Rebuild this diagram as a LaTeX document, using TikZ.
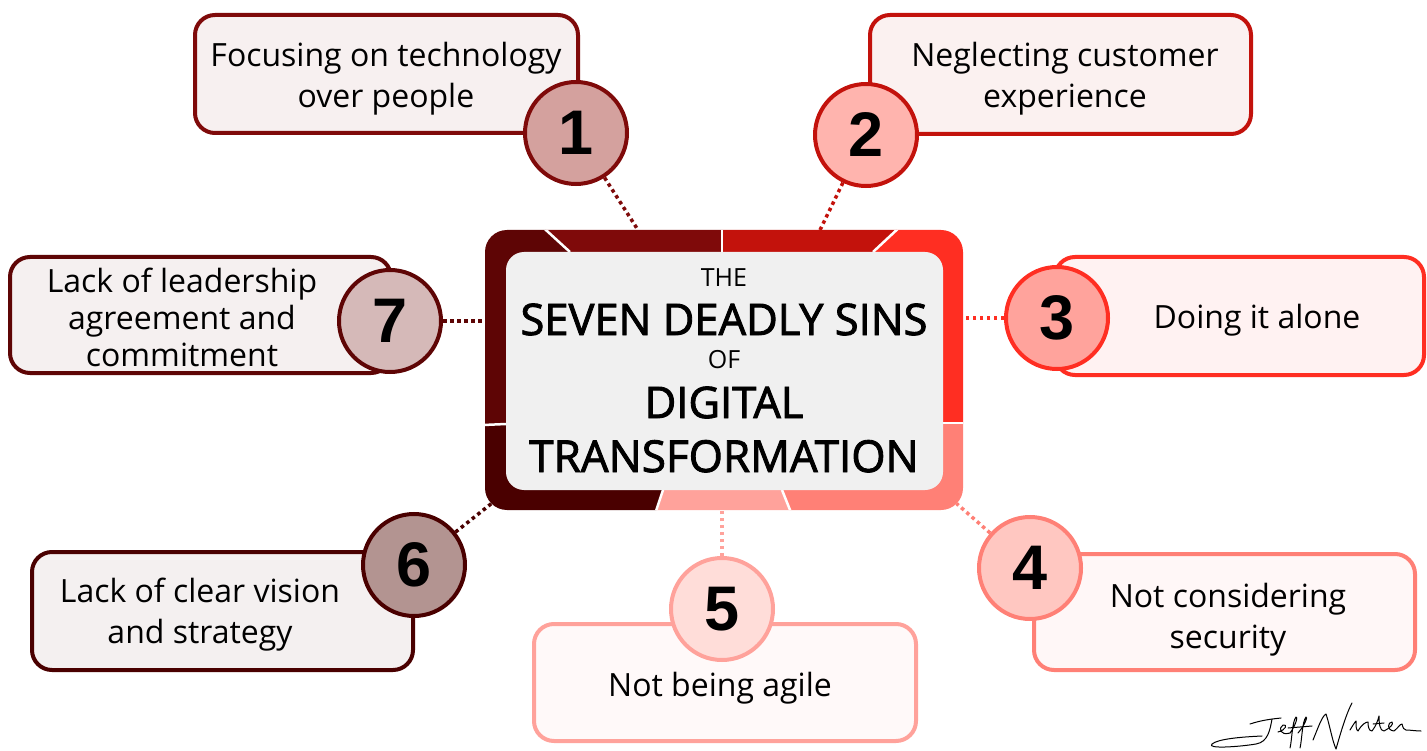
\documentclass[tikz,border=0pt]{standalone}
\usepackage{fontspec}
\setmainfont{Open Sans}
\newfontfamily\headfont[FakeBold=2]{Open Sans}
\newfontfamily\numfont{Liberation Sans}
\usepackage{xcolor}
\definecolor{SinOne}{HTML}{7F0A0A}
\definecolor{SinTwo}{HTML}{C3120C}
\definecolor{SinThree}{HTML}{FF2E22}
\definecolor{SinFour}{HTML}{FF8076}
\definecolor{SinFive}{HTML}{FFA29B}
\definecolor{SinSix}{HTML}{4A0000}
\definecolor{SinSeven}{HTML}{5E0505}
\definecolor{SinOneLight}{HTML}{D4A19E}
\definecolor{SinTwoLight}{HTML}{FFB4AE}
\definecolor{SinThreeLight}{HTML}{FFA39C}
\definecolor{SinFourLight}{HTML}{FFC7C1}
\definecolor{SinFiveLight}{HTML}{FFDDD9}
\definecolor{SinSixLight}{HTML}{B39491}
\definecolor{SinSevenLight}{HTML}{D5B9B8}
\definecolor{Panel}{HTML}{F0F0F0}
\usetikzlibrary{positioning}

\begin{document}
\begin{tikzpicture}[x=1pt, y=-1pt,
  sin/.style={rectangle, rounded corners=20pt, draw=#1, fill=#1!6!white,
    line width=4pt, inner sep=0pt},
  txt/.style={font=\fontsize{32}{41}\selectfont, align=center, text=black},
  num/.style={circle, draw=#1, fill=#1Light, line width=4pt, minimum size=102pt,
    inner sep=0pt, font=\numfont\bfseries\fontsize{63}{63}\selectfont},
  link/.style={draw=#1, line width=3.5pt, dash pattern=on 3.5pt off 3.5pt},
  ttl/.style={anchor=base, inner sep=0pt, font=\fontsize{#1}{#1}\selectfont},
  head/.style={anchor=base, inner sep=0pt, font=\headfont\fontsize{#1}{#1}\selectfont},
]
\useasboundingbox (0,0) rectangle (1427,751);
\fill[white] (0,0) rectangle (1427,751);

%% -- frame and its seven coloured segments ---------------------------
\node[minimum width=478pt, minimum height=280pt, inner sep=0pt, outer sep=0pt] (frame) at (724,370) {};

\coordinate (c)   at (724,370);
\coordinate (i71) at (570,252); \coordinate (o71) at (524,210);
\coordinate (i12) at (722,252); \coordinate (o12) at (722,200);
\coordinate (i23) at (873,252); \coordinate (o23) at (918,210);
\coordinate (i34) at (943,423); \coordinate (o34) at (990,423);
\coordinate (i45) at (782,490); \coordinate (o45) at (800,535);
\coordinate (i56) at (663,490); \coordinate (o56) at (648,535);
\coordinate (i67) at (506,424); \coordinate (o67) at (460,426);

\begin{scope}
  \clip[rounded corners=22pt] (frame.south west) rectangle (frame.north east);
  \fill[SinOne]   (c) -- (i71) -- (o71) -- (o12) -- (i12) -- cycle;
  \fill[SinTwo]   (c) -- (i12) -- (o12) -- (o23) -- (i23) -- cycle;
  \fill[SinThree] (c) -- (i23) -- (o23) -- (1000,200) -- (o34) -- (i34) -- cycle;
  \fill[SinFour]  (c) -- (i34) -- (o34) -- (1000,540) -- (o45) -- (i45) -- cycle;
  \fill[SinFive]  (c) -- (i45) -- (o45) -- (o56) -- (i56) -- cycle;
  \fill[SinSix]   (c) -- (i56) -- (o56) -- (450,540) -- (o67) -- (i67) -- cycle;
  \fill[SinSeven] (c) -- (i67) -- (o67) -- (450,200) -- (o71) -- (i71) -- cycle;
  \foreach \a in {71,12,23,34,45,56,67}
    \draw[white, line width=2.5pt] (i\a) -- (o\a);
\end{scope}
\fill[Panel, rounded corners=18pt] (506,252) rectangle (943,490);

%% -- title -------------------------------------------------------------
\node[ttl=25]    (the)   at (724,287) {THE};
\node[head=43.5] (seven) at (724,335) {SEVEN DEADLY SINS};
\node[ttl=25]    (of)    at (724,368) {OF};
\node[head=43.5] (dig)   at (724,418) {DIGITAL};
\node[head=44]   (trans) at (724,472) {TRANSFORMATION};

%% -- sin boxes ---------------------------------------------------------
\node[sin=SinOne,   minimum width=383pt, minimum height=118pt] (b1) at (386.5,74) {};
\node[sin=SinTwo,   minimum width=381pt, minimum height=119pt] (b2) at (1060.5,74.5) {};
\node[sin=SinThree, minimum width=369pt, minimum height=118pt] (b3) at (1239.5,316) {};
\node[sin=SinFour,  minimum width=381pt, minimum height=116pt] (b4) at (1224.5,612) {};
\node[sin=SinFive,  minimum width=382pt, minimum height=117pt] (b5) at (725,682.5) {};
\node[sin=SinSix,   minimum width=381pt, minimum height=118pt] (b6) at (222.5,611) {};
\node[sin=SinSeven, minimum width=381pt, minimum height=116pt] (b7) at (200.5,315) {};

\node[txt] (t1) at (386,79)  {Focusing on technology\\over people};
\node[txt] (t2) at (1065,79) {Neglecting customer\\experience};
\node[txt] (t3) at (1257,320) {Doing it alone};
\node[txt] (t4) at (1228,620) {Not considering\\security};
\node[txt] (t5) at (720,688) {Not being agile};
\node[txt] (t6) at (200,615) {Lack of clear vision\\and strategy};
\node[txt, font=\fontsize{32}{37}\selectfont] (t7) at (182,317) {Lack of leadership\\agreement and\\commitment};

%% -- numbered badges ---------------------------------------------------
\node[num=SinOne]   (n1) at (576,133) {1};
\node[num=SinTwo]   (n2) at (866,135) {2};
\node[num=SinThree] (n3) at (1057,318) {3};
\node[num=SinFour]  (n4) at (1030,568) {4};
\node[num=SinFive]  (n5) at (722,609) {5};
\node[num=SinSix]   (n6) at (414,565) {6};
\node[num=SinSeven] (n7) at (390,321) {7};

%% dotted links from the badges to the frame
\draw[link=SinOne]   (n1) -- ([xshift=-86pt]frame.north);
\draw[link=SinTwo]   (n2) -- ([xshift=96pt]frame.north);
\draw[link=SinThree] (n3) -- (n3 -| frame.east);
\draw[link=SinFour]  (n4) -- ([shift={(-6.5pt,6.5pt)}]frame.south east);
\draw[link=SinFive]  (n5) -- (n5 |- frame.south);
\draw[link=SinSix]   (n6) -- ([shift={(6.5pt,6.5pt)}]frame.south west);
\draw[link=SinSeven] (n7) -- (n7 -| frame.west);

%% -- signature ---------------------------------------------------------
\begin{scope}[line width=1pt, line cap=round, line join=round]
  \draw (1250,724) .. controls (1262,720) and (1272,719) .. (1281,718);
  \draw (1272,719) .. controls (1270,730) and (1268,742) .. (1256,744)
        .. controls (1238,747) and (1206,749) .. (1212,744)
        .. controls (1218,739) and (1240,737) .. (1262,736);
  \draw (1278,732) .. controls (1286,730) and (1288,724) .. (1283,725)
        .. controls (1278,728) and (1280,736) .. (1290,733);
  \draw (1290,733) .. controls (1296,725) and (1298,716) .. (1296,717)
        .. controls (1292,722) and (1292,740) .. (1290,748);
  \draw (1298,733) .. controls (1305,725) and (1308,716) .. (1306,717)
        .. controls (1302,722) and (1302,740) .. (1300,748);
  \draw (1288,728) -- (1312,726);
  \draw (1313,740) .. controls (1318,728) and (1322,716) .. (1326,714)
        .. controls (1330,726) and (1332,740) .. (1336,749)
        .. controls (1340,735) and (1346,714) .. (1352,703);
  \draw (1350,730) .. controls (1353,725) and (1355,722) .. (1356,721)
        .. controls (1356,726) and (1356,730) .. (1358,731)
        .. controls (1362,724) and (1366,722) .. (1368,722)
        .. controls (1368,727) and (1369,731) .. (1372,731)
        .. controls (1376,726) and (1378,720) .. (1379,716)
        .. controls (1379,724) and (1380,731) .. (1384,731)
        .. controls (1390,728) and (1394,724) .. (1392,722)
        .. controls (1388,722) and (1386,730) .. (1394,731)
        .. controls (1398,728) and (1400,724) .. (1402,724)
        .. controls (1403,728) and (1404,730) .. (1406,730)
        .. controls (1410,730) and (1416,731) .. (1421,731);
  \draw (1373,724) -- (1384,723);
\end{scope}

\end{tikzpicture}
\end{document}
